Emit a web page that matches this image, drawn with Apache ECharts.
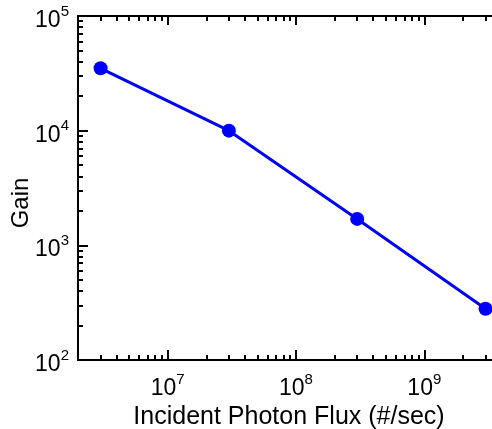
<!DOCTYPE html>
<html>
<head>
<meta charset="utf-8">
<script src="https://cdn.jsdelivr.net/npm/echarts@6/dist/echarts.min.js"></script>
<style>html,body{margin:0;padding:0;background:#fff;}#c{width:492px;height:429px;}</style>
</head>
<body>
<div id="c"></div>
<script>
const fluxValues = [3e6, 3e7, 3e8, 3e9];
const gainValues = [35000, 10000, 1700, 280];
const xMajorTicks = [1e7, 1e8, 1e9];
const xLabelTicks = [1e7, 1e8, 1e9];
const yMajorTicks = [1e2, 1e3, 1e4, 1e5];
const xTitle = 'Incident Photon Flux (#/sec)';
const yTitle = 'Gain';

function minorTicks(fromExp, toExp) {
  const out = [];
  for (let e = fromExp; e < toExp; e++) {
    for (let k = 2; k <= 9; k++) out.push(k * Math.pow(10, e));
  }
  return out;
}
const xMinor = minorTicks(6, 10);
const yMinor = minorTicks(2, 5);

const FONT = 'Arial, "Liberation Sans", sans-serif';
const rich = {
  b: { fontSize: 23, fontFamily: FONT, color: '#000', lineHeight: 28, verticalAlign: 'bottom' },
  s: { fontSize: 15, fontFamily: FONT, color: '#000', lineHeight: 10, verticalAlign: 'top' }
};
function powLabel(v) {
  const e = Math.round(Math.log10(v));
  return '{b|10}{s|' + e + '}';
}

const X_MIN = 2e6, X_MAX = 3.37e9;
const lineStyle = { color: '#000', width: 2 };

function xAxisDef(pos, ticks, len, showLine, withLabels) {
  return {
    type: 'log', position: pos, min: X_MIN, max: X_MAX, logBase: 10,
    axisLine: { show: showLine, lineStyle: lineStyle },
    axisTick: { show: true, inside: true, length: len, customValues: ticks, lineStyle: { color: '#000', width: 2 } },
    axisLabel: withLabels ? { show: true, customValues: xLabelTicks, margin: 12, formatter: powLabel, rich: rich } : { show: false },
    splitLine: { show: false }, minorTick: { show: false }
  };
}
function yAxisDef(pos, ticks, len, showLine, withLabels) {
  return {
    type: 'log', position: pos, min: 100, max: 1e5, logBase: 10,
    axisLine: { show: showLine, lineStyle: lineStyle },
    axisTick: { show: true, inside: true, length: len, customValues: ticks, lineStyle: { color: '#000', width: 2 } },
    axisLabel: withLabels ? { show: true, customValues: yMajorTicks, margin: 9, formatter: powLabel, rich: rich, padding: [4, 0, 0, 0] } : { show: false },
    splitLine: { show: false }, minorTick: { show: false }
  };
}

const xAxes = [
  xAxisDef('bottom', xMajorTicks, 10, true, true),
  xAxisDef('bottom', xMinor, 5, false, false),
  xAxisDef('top', xMajorTicks, 9, true, false),
  xAxisDef('top', xMinor, 5, false, false)
];
xAxes[0].name = xTitle;
xAxes[0].nameLocation = 'middle';
xAxes[0].nameGap = 41;
xAxes[0].nameTextStyle = { fontSize: 25, fontFamily: FONT, color: '#000', padding: [0, 0, 0, 8] };

const yAxes = [
  yAxisDef('left', yMajorTicks, 10, true, true),
  yAxisDef('left', yMinor, 5, false, false)
];
yAxes[0].name = yTitle;
yAxes[0].nameLocation = 'middle';
yAxes[0].nameGap = 45;
yAxes[0].nameMoveOverlap = false;
yAxes[0].nameTextStyle = { fontSize: 24, fontFamily: FONT, color: '#000', padding: [0, 30, 0, 0] };

const chart = echarts.init(document.getElementById('c'), null, { renderer: 'canvas' });
chart.setOption({
  animation: false,
  backgroundColor: '#fff',
  grid: { left: 78, top: 16, bottom: 69, right: 0, containLabel: false, outerBoundsMode: 'none' },
  xAxis: xAxes,
  yAxis: yAxes,
  series: [{
    type: 'line',
    xAxisIndex: 0, yAxisIndex: 0,
    data: fluxValues.map((x, i) => [x, gainValues[i]]),
    lineStyle: { color: '#0000ff', width: 3 },
    itemStyle: { color: '#0000ff' },
    symbol: 'circle', symbolSize: 14,
    clip: false
  }]
});
</script>
</body>
</html>
